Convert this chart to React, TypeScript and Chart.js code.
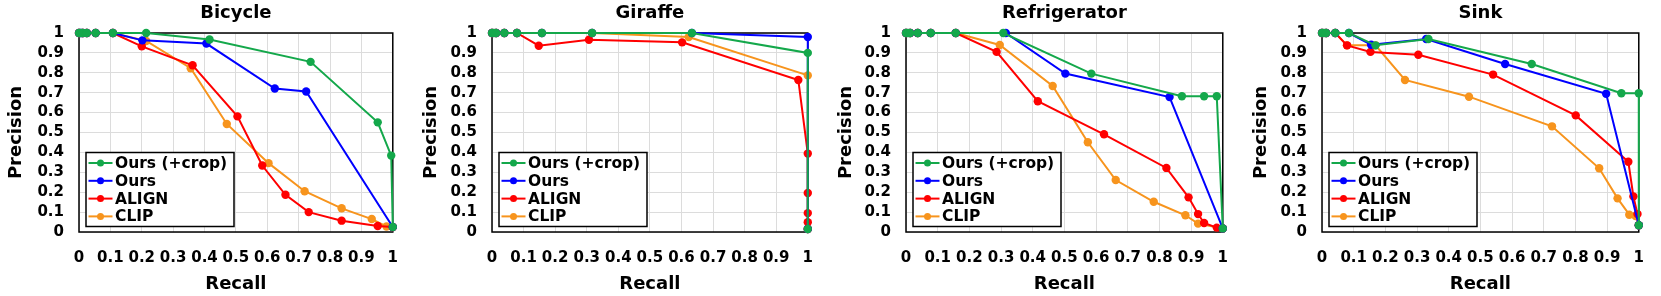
import React, { useEffect, useRef } from "react";
import { Chart, registerables } from "chart.js";

Chart.register(...registerables);

// ---------- data ----------
const TITLES = ["Bicycle", "Giraffe", "Refrigerator", "Sink"];
const SERIES_NAMES = ["Ours (+crop)", "Ours", "ALIGN", "CLIP"];
const SERIES_COLORS = ["#14a84b", "#0000ff", "#ff0000", "#f7941d"];
const TICK_VALUES = [0, 0.1, 0.2, 0.3, 0.4, 0.5, 0.6, 0.7, 0.8, 0.9, 1];
const TICK_LABELS = ["0", "0.1", "0.2", "0.3", "0.4", "0.5", "0.6", "0.7", "0.8", "0.9", "1"];
const X_TITLE = "Recall";
const Y_TITLE = "Precision";

// Bicycle
const bicycleCropRecall = [0, 0.006, 0.012, 0.025, 0.053, 0.108, 0.214, 0.416, 0.738, 0.952, 0.995, 1.0];
const bicycleCropPrecision = [1, 1, 1, 1, 1, 1, 1.0, 0.967, 0.855, 0.551, 0.384, 0.025];
const bicycleOursRecall = [0, 0.006, 0.012, 0.025, 0.053, 0.108, 0.202, 0.406, 0.624, 0.724, 1.0];
const bicycleOursPrecision = [1, 1, 1, 1, 1, 1, 0.963, 0.947, 0.721, 0.706, 0.025];
const bicycleAlignRecall = [0, 0.012, 0.025, 0.053, 0.108, 0.2, 0.362, 0.505, 0.584, 0.658, 0.732, 0.837, 0.952, 1.0];
const bicycleAlignPrecision = [1, 1, 1, 1, 1, 0.933, 0.838, 0.581, 0.334, 0.187, 0.1, 0.057, 0.03, 0.025];
const bicycleClipRecall = [0, 0.012, 0.025, 0.053, 0.108, 0.214, 0.356, 0.471, 0.604, 0.719, 0.837, 0.933, 0.98, 1.0];
const bicycleClipPrecision = [1, 1, 1, 1, 1, 0.96, 0.823, 0.543, 0.346, 0.205, 0.119, 0.065, 0.028, 0.025];

// Giraffe
const giraffeCropRecall = [0, 0.006, 0.013, 0.039, 0.079, 0.158, 0.317, 0.633, 1.0, 1.0];
const giraffeCropPrecision = [1, 1, 1, 1, 1, 1, 1, 1, 0.9, 0.015];
const giraffeOursRecall = [0, 0.013, 0.039, 0.079, 0.158, 0.317, 0.633, 1.0, 1.0];
const giraffeOursPrecision = [1, 1, 1, 1, 1, 1, 1, 0.98, 0.015];
const giraffeAlignRecall = [0, 0.013, 0.039, 0.079, 0.148, 0.307, 0.602, 0.97, 1.0, 1.0, 1.0, 1.0, 1.0];
const giraffeAlignPrecision = [1, 1, 1, 1, 0.936, 0.966, 0.953, 0.764, 0.394, 0.196, 0.095, 0.049, 0.015];
const giraffeClipRecall = [0, 0.013, 0.039, 0.079, 0.158, 0.317, 0.623, 1.0, 1.0];
const giraffeClipPrecision = [1, 1, 1, 1, 1, 1, 0.98, 0.787, 0.015];

// Refrigerator
const fridgeCropRecall = [0, 0.006, 0.013, 0.037, 0.078, 0.157, 0.307, 0.585, 0.871, 0.941, 0.981, 1.0];
const fridgeCropPrecision = [1, 1, 1, 1, 1, 1, 1, 0.796, 0.682, 0.682, 0.682, 0.018];
const fridgeOursRecall = [0, 0.013, 0.037, 0.078, 0.157, 0.315, 0.503, 0.832, 1.0];
const fridgeOursPrecision = [1, 1, 1, 1, 1, 1.0, 0.796, 0.678, 0.018];
const fridgeAlignRecall = [0, 0.013, 0.037, 0.078, 0.157, 0.286, 0.416, 0.625, 0.822, 0.892, 0.922, 0.941, 0.981, 1.0];
const fridgeAlignPrecision = [1, 1, 1, 1, 1, 0.905, 0.657, 0.491, 0.322, 0.174, 0.09, 0.045, 0.022, 0.018];
const fridgeClipRecall = [0, 0.013, 0.037, 0.078, 0.157, 0.296, 0.463, 0.574, 0.662, 0.782, 0.882, 0.922, 1.0];
const fridgeClipPrecision = [1, 1, 1, 1, 1, 0.94, 0.734, 0.451, 0.261, 0.152, 0.084, 0.042, 0.018];

// Sink
const sinkCropRecall = [0, 0.006, 0.013, 0.042, 0.085, 0.169, 0.336, 0.662, 0.945, 1.0, 1.0];
const sinkCropPrecision = [1, 1, 1, 1, 1, 0.938, 0.97, 0.844, 0.697, 0.697, 0.034];
const sinkOursRecall = [0, 0.013, 0.042, 0.085, 0.155, 0.329, 0.578, 0.897, 1.0];
const sinkOursPrecision = [1, 1, 1, 1, 0.941, 0.97, 0.844, 0.695, 0.034];
const sinkAlignRecall = [0, 0.013, 0.042, 0.079, 0.153, 0.304, 0.54, 0.801, 0.967, 0.983, 0.996, 1.0];
const sinkAlignPrecision = [1, 1, 1, 0.938, 0.905, 0.891, 0.791, 0.586, 0.353, 0.179, 0.09, 0.034];
const sinkClipRecall = [0, 0.013, 0.042, 0.079, 0.169, 0.262, 0.464, 0.726, 0.875, 0.933, 0.97, 0.99, 1.0];
const sinkClipPrecision = [1, 1, 1, 0.938, 0.938, 0.764, 0.68, 0.531, 0.32, 0.169, 0.087, 0.08, 0.034];

const PANEL_SERIES = [
  [
    [bicycleCropRecall, bicycleCropPrecision],
    [bicycleOursRecall, bicycleOursPrecision],
    [bicycleAlignRecall, bicycleAlignPrecision],
    [bicycleClipRecall, bicycleClipPrecision],
  ],
  [
    [giraffeCropRecall, giraffeCropPrecision],
    [giraffeOursRecall, giraffeOursPrecision],
    [giraffeAlignRecall, giraffeAlignPrecision],
    [giraffeClipRecall, giraffeClipPrecision],
  ],
  [
    [fridgeCropRecall, fridgeCropPrecision],
    [fridgeOursRecall, fridgeOursPrecision],
    [fridgeAlignRecall, fridgeAlignPrecision],
    [fridgeClipRecall, fridgeClipPrecision],
  ],
  [
    [sinkCropRecall, sinkCropPrecision],
    [sinkOursRecall, sinkOursPrecision],
    [sinkAlignRecall, sinkAlignPrecision],
    [sinkClipRecall, sinkClipPrecision],
  ],
];

// ---------- layout ----------
const PANEL_WIDTHS = [415, 415, 415, 416];
const Y_AXIS_WIDTHS = [79, 77, 76, 77];
const RIGHT_PADS = [11, 13, 15, 14];
const HEIGHT = 296;
const FONT = "'DejaVu Sans', sans-serif";

const framePlugin = {
  id: "frame",
  beforeDatasetsDraw(chart: any) {
    const { ctx, chartArea: a } = chart;
    ctx.save();
    ctx.strokeStyle = "#000";
    ctx.lineWidth = 1.5;
    ctx.strokeRect(a.left, a.top, a.right - a.left, a.bottom - a.top);
    ctx.restore();
  },
};

const titleLegendPlugin = {
  id: "titleLegend",
  afterDatasetsDraw(chart: any) {
    const { ctx, chartArea: a } = chart;
    const title = chart.options.plugins.panelTitle.text;
    ctx.save();
    // title
    ctx.fillStyle = "#000";
    ctx.font = `bold 18px ${FONT}`;
    ctx.textAlign = "center";
    ctx.textBaseline = "middle";
    ctx.fillText(title, (a.left + a.right) / 2, 13);

    // legend
    const w = 148;
    const h = 74;
    const x0 = a.left + 7;
    const y0 = a.bottom - 5.5 - h;
    ctx.fillStyle = "#fff";
    ctx.fillRect(x0, y0, w, h);
    ctx.strokeStyle = "#000";
    ctx.lineWidth = 1.5;
    ctx.strokeRect(x0, y0, w, h);
    chart.data.datasets.forEach((ds: any, i: number) => {
      const cy = y0 + 10.5 + i * 17.8;
      ctx.strokeStyle = ds.borderColor;
      ctx.lineWidth = 2;
      ctx.beginPath();
      ctx.moveTo(x0 + 2.5, cy);
      ctx.lineTo(x0 + 26.5, cy);
      ctx.stroke();
      ctx.fillStyle = ds.borderColor;
      ctx.beginPath();
      ctx.arc(x0 + 14.5, cy, 3.5, 0, Math.PI * 2);
      ctx.fill();
      ctx.fillStyle = "#000";
      ctx.font = `bold 15.5px ${FONT}`;
      ctx.textAlign = "left";
      ctx.textBaseline = "middle";
      ctx.fillText(ds.label, x0 + 29, cy + 1);
    });
    ctx.restore();
  },
};

function Panel({ index }: { index: number }) {
  const ref = useRef<HTMLCanvasElement | null>(null);
  useEffect(() => {
    if (!ref.current) return;
    const datasets = PANEL_SERIES[index].map(([xs, ys], i) => ({
      label: SERIES_NAMES[i],
      data: xs.map((x, k) => ({ x, y: ys[k] })),
      borderColor: SERIES_COLORS[i],
      backgroundColor: SERIES_COLORS[i],
      pointBackgroundColor: SERIES_COLORS[i],
      pointBorderWidth: 0,
      pointRadius: 4.2,
      borderWidth: 2,
      showLine: true,
      tension: 0,
      clip: false as any,
    }));
    const tickFont = { family: FONT, size: 15, weight: "bold" as const };
    const titleFont = { family: FONT, size: 18, weight: "bold" as const };
    const setTicks = (s: any) => {
      s.ticks = TICK_VALUES.map((v) => ({ value: v }));
    };
    const chart = new Chart(ref.current, {
      type: "scatter",
      data: { datasets },
      options: {
        animation: false,
        responsive: false,
        events: [],
        layout: { padding: { top: 33, right: RIGHT_PADS[index], left: 0, bottom: 0 } },
        plugins: {
          legend: { display: false },
          tooltip: { enabled: false },
          // @ts-ignore
          panelTitle: { text: TITLES[index] },
        },
        scales: {
          x: {
            type: "linear",
            min: 0,
            max: 1,
            afterBuildTicks: setTicks,
            afterFit: (s: any) => {
              s.height = 64;
            },
            ticks: {
              autoSkip: false,
              maxRotation: 0,
              color: "#000",
              font: tickFont,
              padding: 17,
              callback: (_v: any, i: number) => TICK_LABELS[i],
            },
            grid: { color: "#dcdcdc", lineWidth: 1, drawTicks: false },
            border: { display: false },
            title: { display: true, text: X_TITLE, color: "#000", font: titleFont, padding: { top: 1, bottom: 1 } },
          },
          y: {
            type: "linear",
            min: 0,
            max: 1,
            afterBuildTicks: setTicks,
            afterFit: (s: any) => {
              s.width = Y_AXIS_WIDTHS[index];
            },
            ticks: {
              autoSkip: false,
              color: "#000",
              font: tickFont,
              padding: 15,
              callback: (_v: any, i: number) => TICK_LABELS[i],
            },
            grid: { color: "#dcdcdc", lineWidth: 1, drawTicks: false },
            border: { display: false },
            title: { display: true, text: Y_TITLE, color: "#000", font: titleFont, padding: { top: 6, bottom: 6 } },
          },
        },
      },
      plugins: [framePlugin, titleLegendPlugin],
    });
    return () => chart.destroy();
  }, [index]);
  return (
    <canvas
      ref={ref}
      width={PANEL_WIDTHS[index]}
      height={HEIGHT}
      style={{ display: "block", width: PANEL_WIDTHS[index], height: HEIGHT }}
    />
  );
}

export default function App() {
  return (
    <div
      style={{
        position: "fixed",
        left: 0,
        top: 0,
        width: 1661,
        height: HEIGHT,
        display: "flex",
        flexDirection: "row",
        background: "#fff",
      }}
    >
      {TITLES.map((_, i) => (
        <Panel key={i} index={i} />
      ))}
    </div>
  );
}
